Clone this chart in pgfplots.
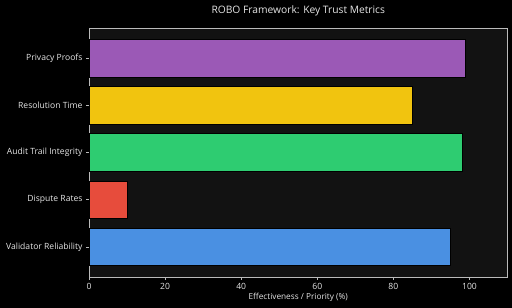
\documentclass[border=0pt]{standalone}
\usepackage{pgfplots}
\pgfplotsset{compat=1.18}
\usepackage{fontspec}
\setmainfont{Open Sans}
\definecolor{axbg}{HTML}{121212}
\definecolor{spine}{HTML}{BBBBBB}
\definecolor{txt}{HTML}{E6E6E6}
\definecolor{cpurple}{HTML}{9B59B6}
\definecolor{cyellow}{HTML}{F1C40F}
\definecolor{cgreen}{HTML}{2ECC71}
\definecolor{cred}{HTML}{E74C3C}
\definecolor{cblue}{HTML}{4A90E2}
\begin{document}
\begin{tikzpicture}
\fill[black] (0,0) rectangle (512bp,308bp);
\useasboundingbox (0,0) rectangle (512bp,308bp);
\begin{axis}[
  at={(89bp,31bp)}, anchor=south west,
  scale only axis, width=418.5bp, height=249bp,
  xmin=0, xmax=110, ymin=-0.64, ymax=4.64,
  axis background/.style={fill=axbg},
  axis line style={spine, line width=0.7pt},
  xbar, bar width=37.8bp, bar shift=0pt,
  ytick={0,1,2,3,4},
  yticklabels={Validator Reliability, Dispute Rates, Audit Trail Integrity, Resolution Time, Privacy Proofs},
  xtick={0,20,40,60,80,100},
  tick align=outside, tick pos=lower,
  major tick length=3bp,
  tick style={spine, line width=0.6pt},
  ticklabel style={font=\fontsize{8.6}{10}\selectfont, text=txt},
  /pgf/number format/assume math mode=true,
  xlabel={Effectiveness / Priority (\%)},
  xlabel style={font=\fontsize{8.3}{10}\selectfont, text=txt, yshift=3bp},
  title={ROBO Framework: Key Trust Metrics},
  title style={font=\fontsize{10.3}{12}\selectfont, text=txt, yshift=3bp},
]
\addplot[fill=cblue, draw=black, line width=0.5pt] coordinates {(95,0)};
\addplot[fill=cred, draw=black, line width=0.5pt] coordinates {(10,1)};
\addplot[fill=cgreen, draw=black, line width=0.5pt] coordinates {(98,2)};
\addplot[fill=cyellow, draw=black, line width=0.5pt] coordinates {(85,3)};
\addplot[fill=cpurple, draw=black, line width=0.5pt] coordinates {(99,4)};
\end{axis}
\end{tikzpicture}
\end{document}
